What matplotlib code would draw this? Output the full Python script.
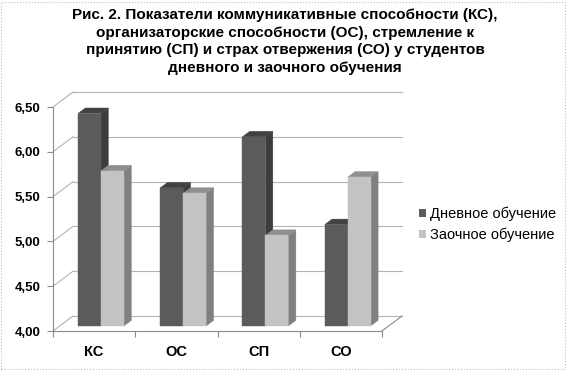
import matplotlib.pyplot as plt
from matplotlib.patches import Polygon, Patch, Rectangle

categories = ["КС", "ОС", "СП", "СО"]
series_names = ["Дневное обучение", "Заочное обучение"]
day_values = [6.37, 5.54, 6.11, 5.13]
extramural_values = [5.73, 5.48, 5.01, 5.66]
yticks = [4.0, 4.5, 5.0, 5.5, 6.0, 6.5]
title = ("Рис. 2. Показатели коммуникативные способности (КС),\n"
         "организаторские способности (ОС), стремление к\n"
         "принятию (СП) и страх отвержения (СО) у студентов\n"
         "дневного и заочного обучения")

plt.rcParams['font.family'] = ['Liberation Sans', 'DejaVu Sans']

W, H = 567, 370
fig = plt.figure(figsize=(W / 100, H / 100), dpi=100)

# front plane in pixels: x 53..382, y 331 (4.0) .. 107 (6.5); depth (+20, -15)
dep_px = (20, 15)
x0, x1 = 53, 382
yb, yt = 331, 107
ymin, ymax = yticks[0], yticks[-1]
px_per_x = (x1 - x0) / len(categories)
px_per_y = (yb - yt) / (ymax - ymin)
DX = dep_px[0] / px_per_x
DY = dep_px[1] / px_per_y

ax = fig.add_axes([x0 / W, (H - yb) / H, (x1 - x0 + dep_px[0]) / W,
                   (yb - yt + dep_px[1]) / H])
ax.set_xlim(0, len(categories) + DX)
ax.set_ylim(ymin, ymax + DY)
ax.patch.set_alpha(0)

axis_col = "#8c8c8c"
grid_col = "#b4b4b4"
n = len(categories)

# back wall gridlines and left wall diagonals
for v in yticks:
    ax.plot([DX, n + DX], [v + DY, v + DY], color=grid_col, lw=0.8,
            clip_on=False, zorder=1)
    ax.plot([0, DX], [v, v + DY], color=grid_col, lw=0.8,
            clip_on=False, zorder=1)
# floor right edge
ax.plot([n, n + DX], [ymin, ymin + DY], color=axis_col, lw=0.8,
        clip_on=False, zorder=1)

for s in ["top", "right"]:
    ax.spines[s].set_visible(False)
ax.spines["left"].set_bounds(ymin, ymax)
ax.spines["bottom"].set_bounds(0, n)
for s in ["left", "bottom"]:
    ax.spines[s].set_color(axis_col)
    ax.spines[s].set_linewidth(0.8)

ax.set_yticks(yticks)
ax.set_yticklabels([f"{v:.2f}".replace(".", ",") for v in yticks],
                   fontsize=9.5, fontweight="bold")
ax.tick_params(axis="y", length=4, color=axis_col, pad=5)
ax.set_xticks(range(n + 1))
ax.set_xticklabels([])
ax.tick_params(axis="x", which="major", length=4, color=axis_col)
ax.set_xticks([i + 0.5 for i in range(n)], minor=True)
ax.set_xticklabels(categories, minor=True, fontsize=10.5, fontweight="bold")
ax.tick_params(axis="x", which="minor", length=0, pad=10)

# 3D-looking bars
f0, f1 = 0.34, 0.71
bw = 0.28
styles = [("#5b5b5b", "#424242", "#3d3d3d"), ("#c3c3c3", "#8f8f8f", "#808080")]


def bar3d(xl, v, cols):
    front, top, side = cols
    ox0, oy0 = f0 * DX, f0 * DY
    ox1, oy1 = f1 * DX, f1 * DY
    xr = xl + bw
    faces = [
        ([(xr + ox0, ymin + oy0), (xr + ox1, ymin + oy1),
          (xr + ox1, v + oy1), (xr + ox0, v + oy0)], side),
        ([(xl + ox0, v + oy0), (xr + ox0, v + oy0),
          (xr + ox1, v + oy1), (xl + ox1, v + oy1)], top),
        ([(xl + ox0, ymin + oy0), (xr + ox0, ymin + oy0),
          (xr + ox0, v + oy0), (xl + ox0, v + oy0)], front),
    ]
    for pts, c in faces:
        ax.add_patch(Polygon(pts, closed=True, facecolor=c, edgecolor=c,
                             lw=0.3, zorder=3, clip_on=False))


for i in range(n):
    c = i + 0.5
    bar3d(c - bw, day_values[i], styles[0])
    bar3d(c, extramural_values[i], styles[1])

handles = [Patch(facecolor=styles[k][0], edgecolor="none", label=series_names[k])
           for k in range(2)]
fig.legend(handles=handles, loc="upper left", bbox_to_anchor=(413 / W, 1 - 201 / H),
           frameon=False, fontsize=10.5, handlelength=0.5, handleheight=0.5,
           handletextpad=0.3, labelspacing=0.45, borderaxespad=0)

fig.text(0.503, 1 - 8 / H, title, ha="center", va="top", fontsize=11,
         fontweight="bold", linespacing=1.33)

fig.patches.append(Rectangle((1 / W, 1 / H), 1 - 3 / W, 1 - 3 / H,
                             transform=fig.transFigure, fill=False,
                             edgecolor="#bdbdbd", lw=0.8, ls=":"))

fig.savefig("out.png", dpi=100)
